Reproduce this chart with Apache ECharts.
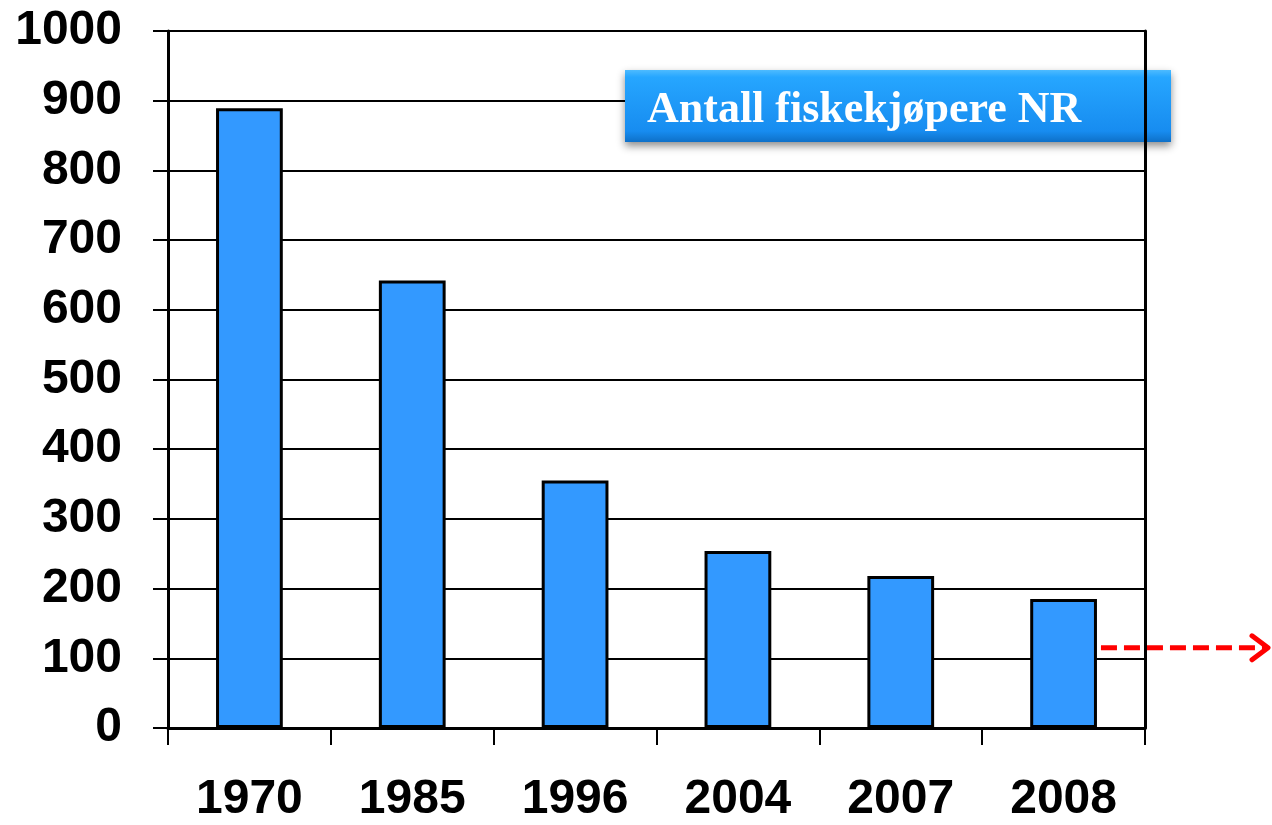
<!DOCTYPE html>
<html>
<head>
<meta charset="utf-8">
<script src="https://cdn.jsdelivr.net/npm/echarts@6/dist/echarts.min.js"></script>
<style>
    html, body { margin: 0; padding: 0; background: #fff; }
    #chart { width: 1272px; height: 825px; }
</style>
</head>
<body>
<div id="chart"></div>
<script>
const years = ['1970', '1985', '1996', '2004', '2007', '2008'];
const buyers = [889, 642, 355, 254, 218, 185];
const arrowLevel = 115;
const titleText = 'Antall fiskekjøpere NR';

const labelFont = {
    color: '#000',
    fontFamily: 'Arial, "Liberation Sans", sans-serif',
    fontWeight: 'bold',
    fontSize: 48,
};

const chart = echarts.init(document.getElementById('chart'));

const option = {
    animation: false,
    grid: { left: 168, right: 127, top: 31, bottom: 97 },
    xAxis: {
        type: 'category',
        data: years,
        boundaryGap: true,
        axisLine: { lineStyle: { color: '#000', width: 3 } },
        axisTick: { show: true, length: 17, lineStyle: { color: '#000', width: 2 } },
        axisLabel: { ...labelFont, margin: 48 },
        splitLine: { show: false },
    },
    yAxis: [
        {
            type: 'value',
            min: 0,
            max: 1000,
            interval: 100,
            axisLine: { show: true, lineStyle: { color: '#000', width: 3 } },
            axisTick: { show: true, length: 15, lineStyle: { color: '#000', width: 2 } },
            axisLabel: { ...labelFont, margin: 46, formatter: (v) => String(v) },
            splitLine: { show: true, lineStyle: { color: '#000', width: 2 } },
        },
        {
            // rammelinje til høyre
            type: 'value',
            position: 'right',
            min: 0,
            max: 1000,
            axisLine: { show: true, lineStyle: { color: '#000', width: 3 } },
            axisTick: { show: false },
            axisLabel: { show: false },
            splitLine: { show: false },
        },
    ],
    series: [
        {
            type: 'bar',
            data: buyers,
            barWidth: '41%',
            itemStyle: { color: '#3399ff', borderColor: '#000', borderWidth: 3 },
        },
    ],
};

chart.setOption(option);

// tittelboks + rød pil, plassert ut fra aksene
const p0 = chart.convertToPixel({ xAxisIndex: 0, yAxisIndex: 0 }, [years[0], arrowLevel]);
const p1 = chart.convertToPixel({ xAxisIndex: 0, yAxisIndex: 0 }, [years[1], arrowLevel]);
const pLast = chart.convertToPixel({ xAxisIndex: 0, yAxisIndex: 0 }, [years[years.length - 1], arrowLevel]);
const bandW = p1[0] - p0[0];
const startX = pLast[0] + bandW * 0.41 / 2 + 4;
const endX = chart.getWidth() - 4;
const y = pLast[1];

chart.setOption({
    graphic: [
        {
            type: 'group',
            left: 625,
            top: 70,
            children: [
                {
                    type: 'rect',
                    shape: { x: 0, y: 0, width: 546, height: 72 },
                    style: {
                        fill: new echarts.graphic.LinearGradient(0, 0, 0, 1, [
                            { offset: 0, color: '#4dbbff' },
                            { offset: 0.1, color: '#26a6ff' },
                            { offset: 0.85, color: '#178cf0' },
                            { offset: 1, color: '#0e70c8' },
                        ]),
                        shadowBlur: 8,
                        shadowOffsetY: 4,
                        shadowColor: 'rgba(0,0,0,0.45)',
                    },
                },
                {
                    type: 'text',
                    x: 22,
                    y: 41,
                    style: {
                        text: titleText,
                        fill: '#fff',
                        font: 'bold 44px "Times New Roman", "Liberation Serif", serif',
                        verticalAlign: 'middle',
                        textAlign: 'left',
                    },
                },
            ],
        },
        {
            type: 'line',
            shape: { x1: startX, y1: y, x2: endX - 2, y2: y },
            style: { stroke: '#ff0000', lineWidth: 5, lineDash: [16, 7] },
            z: 10,
        },
        {
            type: 'polyline',
            shape: { points: [[endX - 16, y - 12], [endX, y], [endX - 16, y + 12]] },
            style: { stroke: '#ff0000', lineWidth: 5, fill: null, lineCap: 'round', lineJoin: 'round' },
            z: 10,
        },
    ],
});
</script>
</body>
</html>
